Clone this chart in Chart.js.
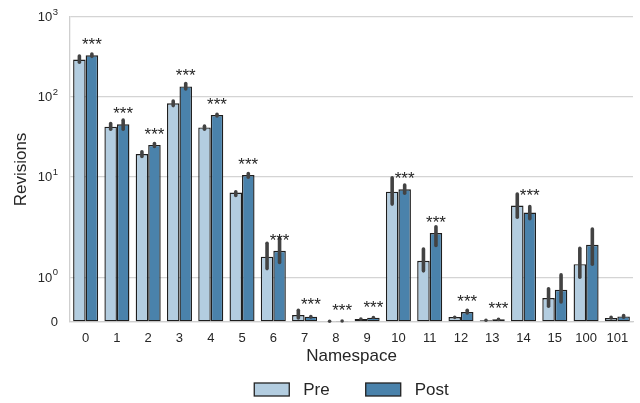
<!DOCTYPE html>
<html>
<head>
<meta charset="utf-8">
<script src="https://cdn.jsdelivr.net/npm/chart.js@4.4.0/dist/chart.umd.min.js"></script>
<style>
  html, body { margin: 0; padding: 0; background: #fff; }
  #wrap { width: 640px; height: 403px; }
</style>
</head>
<body>
<div id="wrap"><canvas id="chart"></canvas></div>
<script>
const categories = ['0', '1', '2', '3', '4', '5', '6', '7', '8', '9', '10', '11', '12', '13', '14', '15', '100', '101'];
const preMean  = [294, 42.6, 19.4, 83.4, 41.8, 6.4, 1.47, 0.157, 0.015, 0.067, 6.58, 1.375, 0.112, 0.04, 4.41, 0.539, 1.30, 0.09];
const preLow   = [258, 37.6, 17.2, 74.3, 37.6, 5.61, 1.16, 0.052, 0.008, 0.045, 4.37, 1.11, 0.067, 0.02, 3.0, 0.314, 0.965, 0.052];
const preHigh  = [342, 49.1, 21.8, 94.2, 45.6, 6.92, 1.81, 0.305, 0.025, 0.09, 10.3, 1.68, 0.141, 0.06, 6.47, 0.786, 1.70, 0.148];
const postMean = [333, 45.6, 25.2, 135.8, 59.5, 10.6, 1.6, 0.119, 0.02, 0.097, 7.05, 2.0, 0.224, 0.06, 3.6, 0.725, 1.735, 0.126];
const postLow  = [306, 37.6, 22.9, 119.6, 55.1, 9.48, 1.30, 0.07, 0.01, 0.07, 5.98, 1.68, 0.164, 0.035, 2.86, 0.41, 1.26, 0.067];
const postHigh = [363, 54.2, 27.7, 155, 64.3, 11.7, 1.92, 0.164, 0.035, 0.13, 8.38, 2.53, 0.305, 0.085, 4.5, 1.1, 2.37, 0.186];
const significance = ['***', '***', '***', '***', '***', '***', '***', '***', '***', '***', '***', '***', '***', '***', '***', '', '', ''];
const yTickValues = [0, 1, 10, 100, 1000];

const FONT = "'Liberation Sans', Arial, sans-serif";
const TEXT = '#262626';
const PRE_COLOR = '#b3cde0';
const POST_COLOR = '#4a82ab';

// symmetric log, linthresh 2, linscale 1 (like matplotlib's symlog)
const LINTHRESH = 2;
const ADJ = 1 / (1 - 1 / 10);
function symlog(v) {
  return v <= LINTHRESH ? (v / LINTHRESH) * ADJ : ADJ + Math.log10(v / LINTHRESH);
}
function symexp(t) {
  return t <= ADJ ? (t / ADJ) * LINTHRESH : LINTHRESH * Math.pow(10, t - ADJ);
}

class SymlogScale extends Chart.Scale {
  static id = 'symlog';
  static defaults = {};
  determineDataLimits() {
    this.min = this.options.min;
    this.max = this.options.max;
  }
  buildTicks() {
    return yTickValues.map(v => ({ value: v }));
  }
  configure() {
    super.configure();
    this._t0 = symlog(this.min);
    this._tRange = symlog(this.max) - this._t0;
  }
  getPixelForValue(v) {
    return this.getPixelForDecimal((symlog(v) - this._t0) / this._tRange);
  }
  getValueForPixel(p) {
    return symexp(this._t0 + this.getDecimalForPixel(p) * this._tRange);
  }
}
Chart.register(SymlogScale);

const errorBars = {
  id: 'errorBars',
  afterDatasetsDraw(chart) {
    const ctx = chart.ctx;
    const y = chart.scales.y;
    const ranges = [[preLow, preHigh], [postLow, postHigh]];
    const lw = 3.6;
    ctx.save();
    ctx.strokeStyle = '#434343';
    ctx.lineWidth = lw;
    ctx.lineCap = 'round';
    ranges.forEach((r, di) => {
      chart.getDatasetMeta(di).data.forEach((bar, i) => {
        let top = y.getPixelForValue(r[1][i]) + lw / 2;
        let bot = y.getPixelForValue(r[0][i]) - lw / 2;
        if (bot < top) { const m = (top + bot) / 2; top = m; bot = m; }
        ctx.beginPath();
        ctx.moveTo(bar.x, top);
        ctx.lineTo(bar.x, bot);
        ctx.stroke();
      });
    });
    // significance stars above each pair
    ctx.fillStyle = TEXT;
    ctx.font = '17px ' + FONT;
    ctx.textAlign = 'center';
    ctx.textBaseline = 'alphabetic';
    const post = chart.getDatasetMeta(1).data;
    const pre = chart.getDatasetMeta(0).data;
    significance.forEach((s, i) => {
      if (!s) return;
      const barTop = Math.min(pre[i].y, post[i].y);
      ctx.fillText(s, post[i].x, barTop - 5);
    });
    ctx.restore();
  },
  afterDraw(chart) {
    const ctx = chart.ctx;
    const y = chart.scales.y;
    const area = chart.chartArea;
    ctx.save();
    ctx.fillStyle = TEXT;
    // y tick labels with superscript exponents
    ctx.textAlign = 'right';
    ctx.textBaseline = 'middle';
    const right = area.left - 12;
    yTickValues.forEach(v => {
      const py = y.getPixelForValue(v);
      if (v === 0) {
        ctx.font = '13px ' + FONT;
        ctx.fillText('0', right, py);
        return;
      }
      const exp = String(Math.round(Math.log10(v)));
      ctx.font = '9.5px ' + FONT;
      const ew = ctx.measureText(exp).width;
      ctx.fillText(exp, right, py - 5);
      ctx.font = '13px ' + FONT;
      ctx.fillText('10', right - ew - 0.5, py + 0.5);
    });
    // legend
    const items = chart.data.datasets.map(d => ({ text: d.label, color: d.backgroundColor }));
    ctx.font = '17px ' + FONT;
    const boxW = 35, boxH = 13, gap = 14, spacing = 36;
    const widths = items.map(it => boxW + gap + ctx.measureText(it.text).width);
    const total = widths.reduce((a, b) => a + b, 0) + spacing * (items.length - 1);
    let x = (area.left + area.right) / 2 - total / 2;
    const cy = 389.5;
    ctx.textAlign = 'left';
    ctx.textBaseline = 'middle';
    items.forEach((it, i) => {
      ctx.fillStyle = it.color;
      ctx.fillRect(x, cy - boxH / 2, boxW, boxH);
      ctx.strokeStyle = '#222';
      ctx.lineWidth = 1.3;
      ctx.strokeRect(x, cy - boxH / 2, boxW, boxH);
      ctx.fillStyle = TEXT;
      ctx.fillText(it.text, x + boxW + gap, cy + 1);
      x += widths[i] + spacing;
    });
    ctx.restore();
  }
};

new Chart(document.getElementById('chart'), {
  type: 'bar',
  data: {
    labels: categories,
    datasets: [
      { label: 'Pre', data: preMean, backgroundColor: PRE_COLOR, borderColor: '#1e1e1e', borderWidth: 1.4, borderSkipped: false },
      { label: 'Post', data: postMean, backgroundColor: POST_COLOR, borderColor: '#1e1e1e', borderWidth: 1.4, borderSkipped: false }
    ]
  },
  options: {
    responsive: true,
    maintainAspectRatio: false,
    animation: false,
    categoryPercentage: 0.8,
    barPercentage: 1.0,
    layout: { padding: { top: 17, right: 7, bottom: 36, left: 0 } },
    plugins: {
      legend: { display: false },
      tooltip: { enabled: false }
    },
    scales: {
      x: {
        offset: true,
        grid: { display: false, drawTicks: false },
        border: { display: true, color: '#cfcfcf', width: 1.3 },
        ticks: { color: TEXT, font: { family: FONT, size: 13 }, padding: 9, maxRotation: 0, autoSkip: false },
        title: { display: true, text: 'Namespace', color: TEXT, font: { family: FONT, size: 17 }, padding: { top: 0, bottom: 0 } },
        afterFit: s => { s.height = 45; }
      },
      y: {
        type: 'symlog',
        min: 0,
        max: 1000,
        grid: { color: '#d4d4d4', lineWidth: 1.3, drawTicks: false },
        border: { display: true, color: '#cfcfcf', width: 1.3 },
        ticks: { display: false },
        title: { display: true, text: 'Revisions', color: TEXT, font: { family: FONT, size: 17 }, padding: { top: 11, bottom: 0 } },
        afterFit: s => { s.width = 70; }
      }
    }
  },
  plugins: [errorBars]
});
</script>
</body>
</html>
